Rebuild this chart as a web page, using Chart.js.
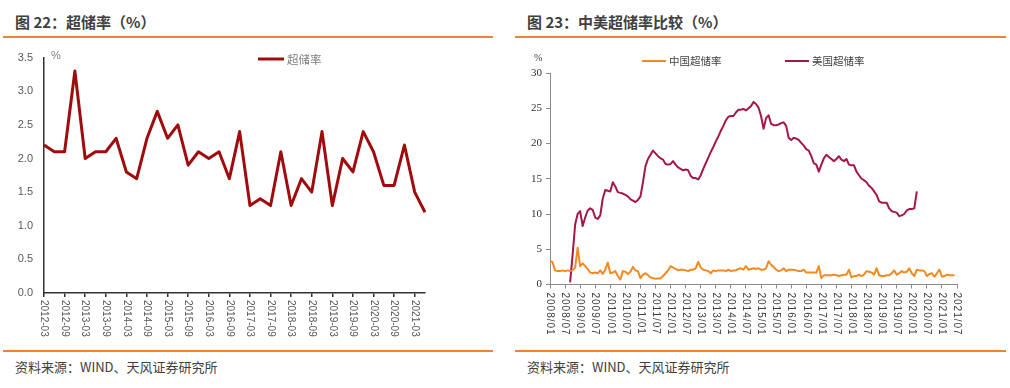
<!DOCTYPE html>
<html>
<head>
<meta charset="utf-8">
<script src="https://cdn.jsdelivr.net/npm/chart.js@4"></script>
<style>
body { margin: 0; width: 1010px; height: 388px; background: #fff; position: relative; overflow: hidden; font-family: "Noto Sans CJK SC", sans-serif; }
.title { position: absolute; top: 12px; line-height: 20px; font-size: 15px; font-weight: bold; color: #404040; }
.rule { position: absolute; height: 1.5px; background: #EE8433; }
.src { position: absolute; top: 358px; line-height: 18px; font-size: 13px; color: #404040; }
canvas { position: absolute; top: 40px; }
</style>
</head>
<body>
<div class="title" style="left:15px">图 22：超储率（%）</div>
<div class="title" style="left:527px">图 23：中美超储率比较（%）</div>
<div class="rule" style="left:3px;width:490px;top:36px"></div>
<div class="rule" style="left:515px;width:491px;top:36px"></div>
<canvas id="c1" width="495" height="300" style="left:0"></canvas>
<canvas id="c2" width="500" height="300" style="left:505px"></canvas>
<div class="rule" style="left:3px;width:490px;top:350px"></div>
<div class="rule" style="left:515px;width:491px;top:350px"></div>
<div class="src" style="left:15px">资料来源：WIND、天风证券研究所</div>
<div class="src" style="left:527px">资料来源：WIND、天风证券研究所</div>
<script>
// chart 22: quarterly 2012-03 .. 2021-06
const quarters = []
for (let y = 2012; y <= 2021; y++) {
    for (const m of ['03', '06', '09', '12']) {
        if (y == 2021 && m > '06') break
        quarters.push(y + '-' + m)
    }
}
const cnQuarterly = [2.2, 2.1, 2.1, 3.3, 2.0, 2.1, 2.1, 2.3, 1.8, 1.7, 2.3, 2.7, 2.3, 2.5, 1.9, 2.1, 2.0, 2.1, 1.7,
    2.4, 1.3, 1.4, 1.3, 2.1, 1.3, 1.7, 1.5, 2.4, 1.3, 2.0, 1.8, 2.4, 2.1, 1.6, 1.6, 2.2, 1.5, 1.2]

// chart 23: monthly 2008/01 .. 2021/07
const months = []
for (let y = 2008; y <= 2021; y++) {
    for (let m = 1; m <= 12; m++) {
        if (y == 2021 && m > 7) break
        months.push(y + '/' + String(m).padStart(2, '0'))
    }
}
const cnMonthly = [
    3.3, 3.2, 2.0, 1.9, 1.9, 2.0, 1.9, 2.0, 1.9, 2.0, 2.4, 5.2,
    2.6, 3.0, 2.6, 2.2, 1.7, 1.6, 1.7, 1.6, 2.0, 1.5, 2.1, 3.1,
    1.6, 1.7, 1.9, 1.2, 0.7, 1.9, 1.8, 1.5, 1.8, 2.5, 2.0, 1.9,
    0.9, 1.4, 1.6, 1.3, 1.0, 0.9, 0.8, 0.85, 0.9, 1.2, 1.6, 2.0,
    2.6, 2.4, 2.2, 2.0, 2.1, 2.1, 2.0, 1.9, 2.1, 2.1, 2.3, 3.2,
    2.4, 2.1, 2.0, 1.9, 1.6, 2.0, 1.9, 2.0, 2.0, 2.0, 1.9, 2.1,
    1.9, 2.0, 2.0, 2.2, 2.3, 2.1, 2.6, 2.1, 2.2, 2.3, 2.2, 2.3,
    2.1, 2.1, 2.3, 3.3, 2.8, 2.5, 2.1, 1.9, 2.0, 2.3, 1.9, 2.1,
    2.1, 2.1, 2.0, 1.9, 1.9, 2.1, 1.7, 1.7, 1.7, 1.7, 1.7, 2.6,
    0.9, 1.3, 1.3, 1.3, 1.3, 1.4, 1.3, 1.2, 1.3, 1.4, 1.4, 2.1,
    1.0, 1.2, 1.2, 1.4, 1.2, 1.4, 1.9, 1.8, 1.7, 1.4, 2.3, 1.3,
    1.2, 1.2, 1.3, 1.3, 1.6, 2.0, 1.4, 1.6, 1.9, 1.7, 1.8, 2.3,
    1.6, 1.2, 2.1, 2.0, 2.0, 1.9, 1.2, 1.5, 1.6, 1.1, 1.6, 2.1,
    1.1, 1.2, 1.4, 1.3, 1.3, 1.3
]
const usMonthly = [
    null, null, null, null, null, null, null, null, 0.3, 4.2, 8.5, 10.0,
    10.4, 8.3, 9.5, 10.5, 10.8, 10.6, 9.5, 9.3, 9.8, 12.2, 13.4, 13.3,
    13.2, 14.5, 13.9, 13.1, 13.0, 12.9, 12.7, 12.5, 12.1, 11.9, 11.7, 12.0,
    12.5, 14.5, 16.8, 17.8, 18.4, 19.0, 18.6, 18.2, 17.9, 17.7, 17.1, 17.0,
    17.1, 17.5, 17.0, 16.6, 16.4, 16.2, 16.3, 16.2, 15.4, 15.1, 15.1, 14.9,
    15.5, 16.4, 17.2, 18.0, 18.8, 19.5, 20.3, 21.0, 21.8, 22.5, 23.3, 23.8,
    23.9, 23.9, 24.4, 24.8, 24.8, 24.9, 24.7, 25.0, 25.3, 25.9, 25.6, 25.1,
    23.9, 22.1, 23.6, 24.0, 22.8, 22.6, 22.6, 22.7, 22.9, 23.0, 22.5, 20.8,
    20.5, 20.8, 20.7, 20.5, 20.1, 19.7, 19.2, 19.0, 18.2, 17.2, 17.0, 16.0,
    17.0, 17.9, 18.4, 18.1, 17.8, 17.5, 17.8, 18.2, 17.7, 17.5, 17.8, 17.0,
    16.9, 16.9, 16.0, 15.5, 15.0, 14.8, 14.5, 14.0, 13.7, 13.2, 12.7, 11.8,
    11.6, 11.6, 11.6, 10.8, 10.4, 10.3, 10.2, 9.7, 9.8, 10.0, 10.5, 10.7,
    10.7, 10.8, 13.2
]

// x labels rotated clockwise (text reads top to bottom)
const vertLabels = {
    id: 'vertLabels',
    afterDraw(chart, args, opts) {
        const sx = chart.scales.x, ctx = chart.ctx
        ctx.save()
        ctx.font = opts.font
        ctx.fillStyle = opts.color
        ctx.letterSpacing = opts.spacing || '0px'
        ctx.textAlign = 'left'
        ctx.textBaseline = 'middle'
        chart.data.labels.forEach((lab, i) => {
            if (i % opts.step) return
            ctx.save()
            ctx.translate(sx.getPixelForValue(i), sx.top + opts.gap)
            ctx.rotate(Math.PI / 2)
            ctx.fillText(lab, 0, 0)
            ctx.restore()
        })
        ctx.restore()
    }
}

// legend inside the plot + unit label
const lineLegend = {
    id: 'lineLegend',
    afterDraw(chart, args, opts) {
        const ctx = chart.ctx
        ctx.save()
        ctx.textBaseline = 'middle'
        ctx.textAlign = 'left'
        ctx.font = opts.font
        chart.data.datasets.forEach((ds, i) => {
            const [x, y] = opts.pos[i]
            ctx.strokeStyle = ds.borderColor
            ctx.lineWidth = ds.borderWidth
            ctx.beginPath()
            ctx.moveTo(x, y)
            ctx.lineTo(x + opts.len, y)
            ctx.stroke()
            ctx.fillStyle = opts.color
            ctx.fillText(ds.label, x + opts.len + 3, y + 0.5)
        })
        ctx.font = opts.unitFont
        ctx.fillStyle = opts.unitColor
        ctx.fillText('%', opts.unit[0], opts.unit[1])
        ctx.restore()
    }
}

new Chart(document.getElementById('c1'), {
    type: 'line',
    data: {
        labels: quarters,
        datasets: [{
            label: '超储率',
            data: cnQuarterly,
            borderColor: '#A00C0E',
            borderWidth: 3,
            borderJoinStyle: 'round',
            pointRadius: 0,
            tension: 0
        }]
    },
    options: {
        responsive: false,
        animation: false,
        devicePixelRatio: 1,
        layout: { padding: { left: 0, top: 14, right: 70, bottom: 0 } },
        plugins: {
            legend: { display: false },
            tooltip: { enabled: false },
            vertLabels: { font: '10px "Liberation Sans"', color: '#595959', step: 2, gap: 7 },
            lineLegend: {
                font: '11.5px "Noto Sans CJK SC"', color: '#7F7F7F', len: 26, pos: [[258, 19]],
                unitFont: '11px "Liberation Sans"', unitColor: '#7F7F7F', unit: [51, 16]
            }
        },
        scales: {
            x: {
                offset: false,
                afterFit: s => { s.height = 47 },
                ticks: { display: false },
                grid: {
                    drawOnChartArea: false, drawTicks: true, tickLength: 4, lineWidth: 1.5,
                    color: c => c.index % 2 == 0 ? '#333333' : 'rgba(0,0,0,0)'
                },
                border: { display: true, color: '#333333', width: 1.5 }
            },
            y: {
                min: 0, max: 3.5,
                afterFit: s => { s.width = 44 },
                ticks: {
                    stepSize: 0.5, padding: 11, color: '#595959',
                    font: { family: 'Liberation Sans', size: 11 },
                    callback: v => v.toFixed(1)
                },
                grid: { drawOnChartArea: false, drawTicks: false },
                border: { display: true, color: '#333333', width: 1.5 }
            }
        }
    },
    plugins: [vertLabels, lineLegend]
})

new Chart(document.getElementById('c2'), {
    type: 'line',
    data: {
        labels: months,
        datasets: [{
            label: '中国超储率',
            data: cnMonthly,
            borderColor: '#F28A22',
            borderWidth: 2,
            borderJoinStyle: 'round',
            pointRadius: 0,
            tension: 0
        }, {
            label: '美国超储率',
            data: usMonthly,
            borderColor: '#A3174A',
            borderWidth: 2,
            borderJoinStyle: 'round',
            pointRadius: 0,
            tension: 0
        }]
    },
    options: {
        responsive: false,
        animation: false,
        devicePixelRatio: 1,
        layout: { padding: { left: 0, top: 33, right: 48, bottom: 0 } },
        plugins: {
            legend: { display: false },
            tooltip: { enabled: false },
            vertLabels: { font: '10px "Liberation Sans"', color: '#404040', step: 6, gap: 8, spacing: '1px' },
            lineLegend: {
                font: '10.5px "Noto Sans CJK SC"', color: '#404040', len: 24, pos: [[137, 21], [280, 21]],
                unitFont: '10px "Liberation Serif"', unitColor: '#404040', unit: [29, 18]
            }
        },
        scales: {
            x: {
                offset: false,
                afterFit: s => { s.height = 55.5 },
                ticks: { display: false },
                grid: {
                    drawOnChartArea: false, drawTicks: true, tickLength: 4, lineWidth: 1,
                    color: c => c.index % 6 == 0 ? '#8C8C8C' : 'rgba(0,0,0,0)'
                },
                border: { display: true, color: '#8C8C8C', width: 1 }
            },
            y: {
                min: 0, max: 30,
                afterFit: s => { s.width = 45 },
                ticks: {
                    stepSize: 5, padding: 4, color: '#333333',
                    font: { family: 'Liberation Serif', size: 11 }
                },
                grid: { drawOnChartArea: false, drawTicks: true, tickLength: 4, color: '#8C8C8C' },
                border: { display: true, color: '#8C8C8C', width: 1 }
            }
        }
    },
    plugins: [vertLabels, lineLegend]
})
</script>
</body>
</html>
